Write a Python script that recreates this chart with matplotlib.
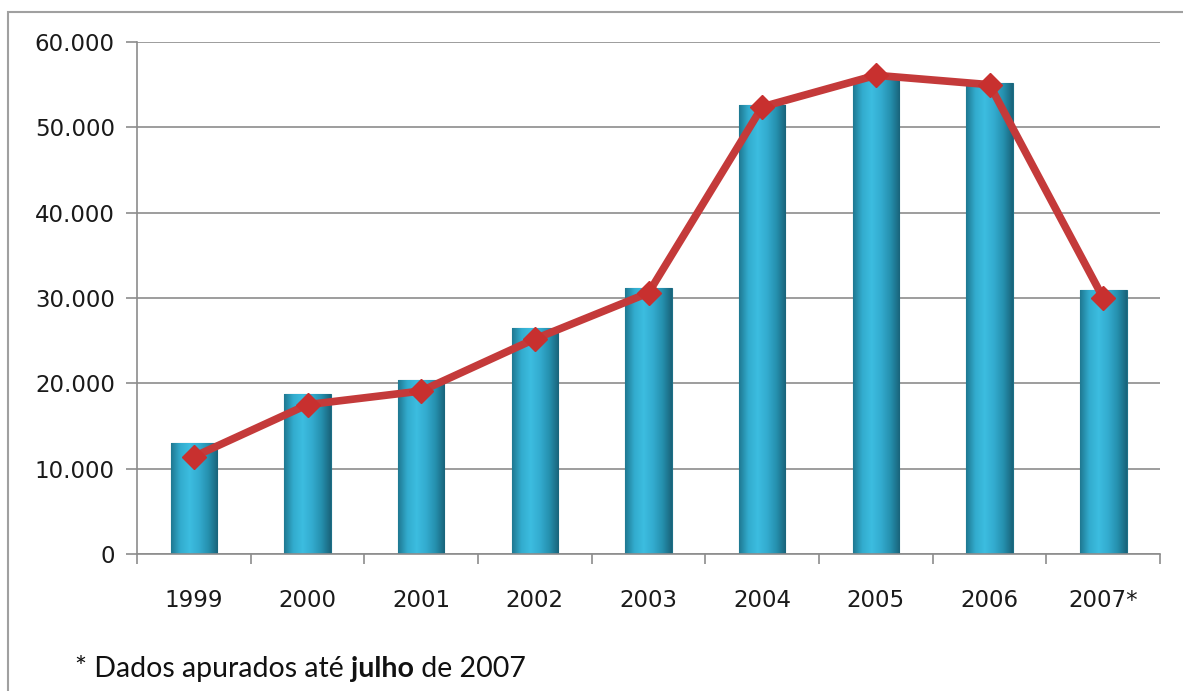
import matplotlib
matplotlib.use('Agg')
import matplotlib.pyplot as plt
import numpy as np
from matplotlib.ticker import FuncFormatter, FixedLocator
from matplotlib.patches import Rectangle

years = ['1999', '2000', '2001', '2002', '2003', '2004', '2005', '2006', '2007*']
bar_values = [13000, 18800, 20400, 26500, 31200, 52600, 55600, 55200, 30900]
line_values = [11400, 17500, 19100, 25200, 30600, 52400, 56100, 55000, 30000]

plt.rcParams['font.family'] = 'DejaVu Sans'

fig = plt.figure(figsize=(11.83, 6.91), dpi=100)
ax = fig.add_axes([0.1158, 0.1983, 0.8648, 0.7409])

x = np.arange(len(years))
bars = ax.bar(x, bar_values, width=0.41, color='#2ea3c4', edgecolor='#1d6f86',
              linewidth=0.8, zorder=2)

# horizontal gradient on each bar, darker at the edges
grad = np.linspace(0, 1, 256)
cmap = matplotlib.colors.LinearSegmentedColormap.from_list(
    'bar', ['#1f7891', '#32acce', '#3cbde0', '#33abcf', '#2590ae', '#19637a'])
for b in bars:
    x0, w, h = b.get_x(), b.get_width(), b.get_height()
    im = ax.imshow(grad.reshape(1, -1), extent=(x0, x0 + w, 0, h), aspect='auto',
                   cmap=cmap, zorder=2.5)
    im.set_clip_path(b)

ax.plot(x, line_values, color='#c43a3a', linewidth=5.5, marker='D', markersize=12,
        markerfacecolor='#c8302f', markeredgecolor='#c8302f', zorder=4,
        solid_joinstyle='round')

ax.set_xlim(-0.5, len(years) - 0.5)
ax.set_ylim(0, 60000)
ax.yaxis.set_major_locator(FixedLocator(np.arange(0, 60001, 10000)))
ax.yaxis.set_major_formatter(FuncFormatter(lambda v, p: f'{int(v):,}'.replace(',', '.')))
ax.set_xticks(x)
ax.set_xticklabels(years)
ax.set_xticks(np.arange(-0.5, len(years)), minor=True)
ax.tick_params(axis='x', which='major', length=0, pad=25, labelsize=16.5, colors='#1a1a1a')
ax.tick_params(axis='x', which='minor', length=7, width=1.2, color='#8c8c8c', direction='out')
ax.tick_params(axis='y', length=8, width=1.2, color='#8c8c8c', pad=8, labelsize=16.5,
               labelcolor='#1a1a1a')

ax.grid(axis='y', color='#8c8c8c', linewidth=1.2, zorder=0)
ax.set_axisbelow(True)
for s in ['top', 'right']:
    ax.spines[s].set_visible(False)
ax.spines['left'].set_color('#8c8c8c')
ax.spines['bottom'].set_color('#8c8c8c')
ax.spines['left'].set_linewidth(1.2)
ax.spines['bottom'].set_linewidth(1.2)

# outer frame
fig.patches.append(Rectangle((8 / 1183, -0.1), 1.2, 1 - 12 / 691 + 0.1,
                             transform=fig.transFigure, fill=False,
                             edgecolor='#a0a0a0', linewidth=1.5))

# footnote with bold word
fig.canvas.draw()
r = fig.canvas.get_renderer()
fy = 1 - 669 / 691
xp = 75 / 1183
parts = [('* Dados apurados até ', 'normal'), ('julho', 'bold'), (' de 2007', 'normal')]
for txt, wgt in parts:
    t = fig.text(xp, fy, txt, fontsize=20.5, fontweight=wgt, family='Lato',
                 color='#111111', va='center', ha='left')
    bb = t.get_window_extent(renderer=r)
    xp += bb.width / fig.bbox.width

fig.savefig('out.png', dpi=100)
